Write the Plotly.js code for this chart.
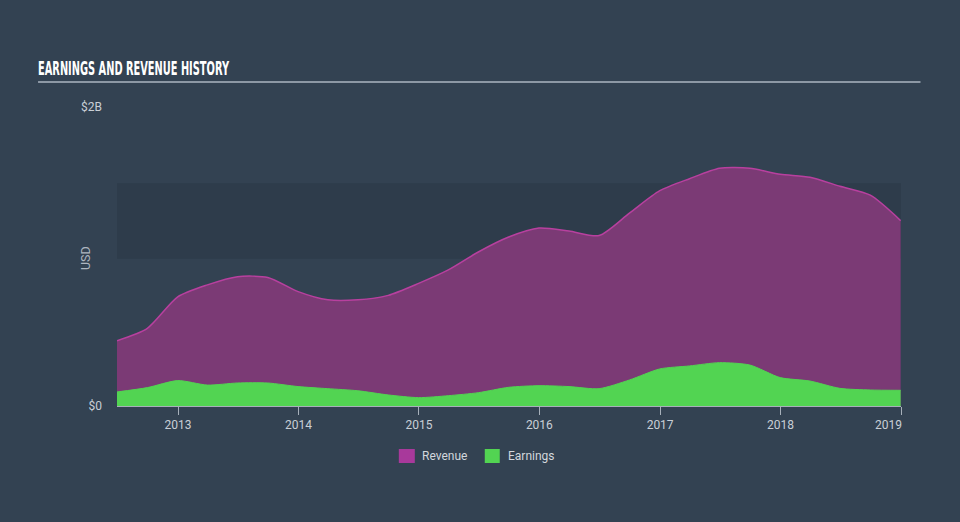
<!DOCTYPE html>
<html>
<head>
<meta charset="utf-8">
<script src="https://cdn.plot.ly/plotly-3.0.1.min.js"></script>
<style>
  html, body { margin: 0; padding: 0; background: #334252; }
  #chart { width: 960px; height: 522px; }
</style>
</head>
<body>
<div id="chart"></div>
<script>
const dates = [
  '2012-06-30','2012-09-30','2012-12-31','2013-03-31','2013-06-30','2013-09-30','2013-12-31',
  '2014-03-31','2014-06-30','2014-09-30','2014-12-31','2015-03-31','2015-06-30','2015-09-30',
  '2015-12-31','2016-03-31','2016-06-30','2016-09-30','2016-12-31','2017-03-31','2017-06-30',
  '2017-09-30','2017-12-31','2018-03-31','2018-06-30','2018-09-30','2018-12-31'
];
const revenue = [
  0.437, 0.52, 0.73, 0.81, 0.865, 0.86, 0.765,
  0.71, 0.71, 0.74, 0.82, 0.91, 1.03, 1.13,
  1.19, 1.17, 1.14, 1.29, 1.44, 1.52, 1.59,
  1.59, 1.55, 1.53, 1.47, 1.41, 1.24
].map(v => v * 1e9);
const earnings = [
  0.094, 0.123, 0.17, 0.14, 0.154, 0.154, 0.13,
  0.116, 0.102, 0.074, 0.056, 0.069, 0.089, 0.125,
  0.136, 0.13, 0.116, 0.174, 0.248, 0.268, 0.29,
  0.274, 0.19, 0.167, 0.118, 0.107, 0.105
].map(v => v * 1e9);
const yTickVals = [0, 2e9];
const yTickText = ['$0', '$2B'];
const seriesNames = ['Revenue', 'Earnings'];

const L = 117, R = 901.5, T = 107, B = 406;
const W = R - L, H = B - T;
const px = x => (x - L) / W;
const py = y => (B - y) / H;

const traces = [
  {
    x: dates, y: revenue, name: seriesNames[0], type: 'scatter', mode: 'lines',
    line: { color: '#b8409f', width: 1.5, shape: 'spline', smoothing: 0.7 },
    fill: 'tozeroy', fillcolor: '#7b3a75', hoverinfo: 'skip'
  },
  {
    x: dates, y: earnings, name: seriesNames[1], type: 'scatter', mode: 'lines',
    line: { color: '#52d452', width: 1, shape: 'spline', smoothing: 0.7 },
    fill: 'tozeroy', fillcolor: '#52d452', hoverinfo: 'skip'
  }
];

const tickFont = { family: 'Roboto, "Open Sans", sans-serif', size: 12, color: '#c9cfd6' };

const layout = {
  width: 960, height: 522,
  paper_bgcolor: '#334252', plot_bgcolor: '#334252',
  margin: { l: L, r: 960 - R, t: T, b: 522 - B },
  showlegend: false,
  title: {
    text: '<b>EARNINGS AND REVENUE HISTORY</b>',
    x: 38 / 960, xanchor: 'left', xref: 'container',
    y: 1 - 68 / 522, yanchor: 'middle', yref: 'container',
    font: { family: '"DejaVu Sans Condensed", "Liberation Sans Narrow", "Liberation Sans", sans-serif', size: 19, color: '#ffffff' }
  },
  xaxis: {
    type: 'date', range: ['2012-06-30', '2019-01-01'],
    showgrid: false, zeroline: false,
    showline: true, linecolor: '#a7b0ba', linewidth: 1,
    ticks: 'outside', ticklen: 8, tickcolor: '#a7b0ba', tickwidth: 1,
    dtick: 'M12', tick0: '2013-01-01', tickformat: '%Y',
    tickfont: tickFont
  },
  yaxis: {
    range: [0, 2e9], showgrid: false, zeroline: false, showline: false,
    tickvals: yTickVals, ticktext: yTickText, ticks: '',
    ticklabelstandoff: 14,
    tickfont: tickFont
  },
  shapes: [
    { type: 'rect', xref: 'paper', yref: 'y', x0: 0, x1: 1, y0: 0.985e9, y1: 1.49e9,
      fillcolor: '#2e3c4b', line: { width: 0 }, layer: 'below' },
    { type: 'line', xref: 'paper', yref: 'paper', x0: px(38), x1: px(921), y0: py(82), y1: py(82),
      line: { color: '#8d98a5', width: 2 } },
    { type: 'rect', xref: 'paper', yref: 'paper', x0: px(399), x1: px(415), y0: py(449), y1: py(463),
      fillcolor: '#a8399b', line: { width: 0 } },
    { type: 'rect', xref: 'paper', yref: 'paper', x0: px(485), x1: px(500), y0: py(449), y1: py(463),
      fillcolor: '#52d452', line: { width: 0 } }
  ],
  annotations: [
    { text: 'USD', xref: 'paper', yref: 'paper', x: px(85), y: py(258), textangle: -90,
      showarrow: false, xanchor: 'center', yanchor: 'middle',
      font: { family: 'Roboto, "Open Sans", sans-serif', size: 12.5, color: '#aeb6c0' } },
    { text: seriesNames[0], xref: 'paper', yref: 'paper', x: px(420), y: py(456),
      showarrow: false, xanchor: 'left', yanchor: 'middle',
      font: { family: 'Roboto, "Open Sans", sans-serif', size: 12, color: '#d2d7dc' } },
    { text: seriesNames[1], xref: 'paper', yref: 'paper', x: px(506), y: py(456),
      showarrow: false, xanchor: 'left', yanchor: 'middle',
      font: { family: 'Roboto, "Open Sans", sans-serif', size: 12, color: '#d2d7dc' } }
  ]
};

Plotly.newPlot('chart', traces, layout, { staticPlot: true, displayModeBar: false }).then(gd => {
  const t = gd.querySelector('.gtitle');
  if (t) {
    t.setAttribute('textLength', '191');
    t.setAttribute('lengthAdjust', 'spacingAndGlyphs');
  }
  const xt = gd.querySelectorAll('.xtick text');
  if (xt.length) {
    const last = xt[xt.length - 1];
    last.setAttribute('text-anchor', 'end');
    last.setAttribute('x', String(parseFloat(last.getAttribute('x') || '0') + 1));
  }
});
</script>
</body>
</html>
